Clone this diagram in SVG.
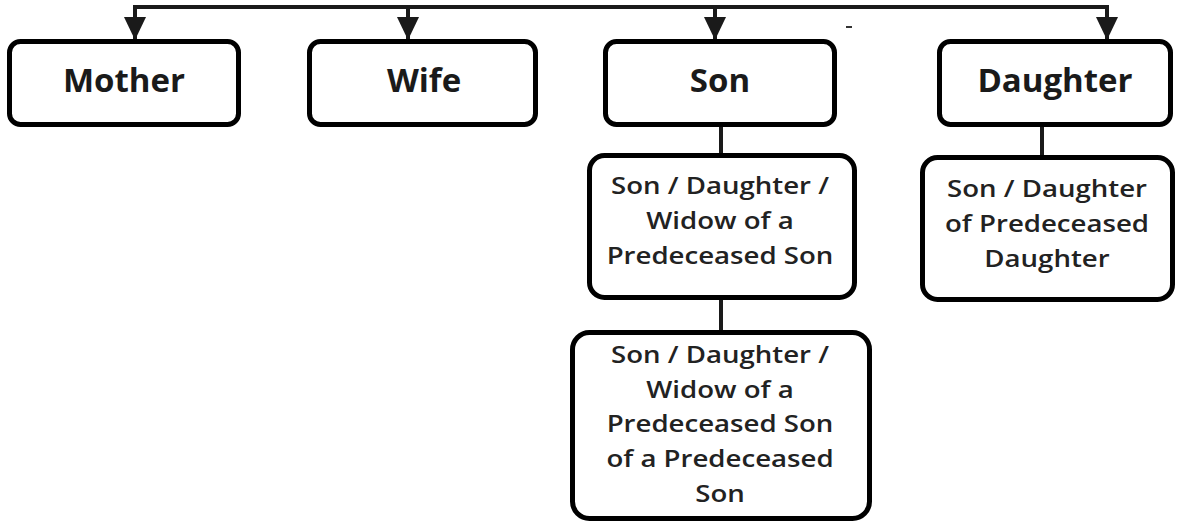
<svg xmlns="http://www.w3.org/2000/svg" width="1186" height="524" viewBox="0 0 1186 524">
<defs>
<style>
.box{fill:#fff;stroke:#000;stroke-width:5}
.lbl{font-family:"Open Sans","Liberation Sans",sans-serif;font-weight:700;font-size:33px;fill:#1a1a1a;text-anchor:middle}
.sm{font-family:"Open Sans","Liberation Sans",sans-serif;font-weight:600;font-size:24px;fill:#222;text-anchor:middle}
.ln{stroke:#1a1a1a;stroke-width:4;fill:none}
</style>
<marker id="ah" markerWidth="23" markerHeight="24" viewBox="0 0 24 23" refX="24" refY="11.5" orient="auto" markerUnits="userSpaceOnUse">
<path d="M0,0 L24,11.5 L0,23 Z" fill="#1a1a1a"/>
</marker>
</defs>
<rect width="1186" height="524" fill="#fff"/>
<g id="connectors">
<path class="ln" d="M135,40 V7 H1107 V40"/>
<path class="ln" d="M135,9 V40" marker-end="url(#ah)"/>
<path class="ln" d="M408,9 V40" marker-end="url(#ah)"/>
<path class="ln" d="M715,9 V40" marker-end="url(#ah)"/>
<path class="ln" d="M1107,9 V40" marker-end="url(#ah)"/>
<path class="ln" d="M721,127 V155"/>
<path class="ln" d="M1042,127 V157"/>
<path class="ln" d="M721,300 V332"/>
<rect x="846" y="26" width="6" height="2" fill="#333"/>
</g>
<g id="mother">
<rect class="box" x="9.5" y="41.5" width="229" height="83" rx="11"/>
<text class="lbl" x="124" y="92">Mother</text>
</g>
<g id="wife">
<rect class="box" x="309.5" y="41.5" width="226" height="83" rx="11"/>
<text class="lbl" x="424" y="92">Wife</text>
</g>
<g id="son">
<rect class="box" x="605.5" y="41.5" width="229" height="83" rx="11"/>
<text class="lbl" x="720" y="92">Son</text>
</g>
<g id="daughter">
<rect class="box" x="939.5" y="41.5" width="231" height="83" rx="11"/>
<text class="lbl" x="1055" y="92">Daughter</text>
</g>
<g id="son-child">
<rect class="box" x="589.5" y="155.5" width="265" height="142" rx="15"/>
<g transform="translate(720,0) scale(1.15,1)">
<text class="sm" x="0" y="194">Son / Daughter /</text>
<text class="sm" x="0" y="229">Widow of a</text>
<text class="sm" x="0" y="264">Predeceased Son</text>
</g>
</g>
<g id="daughter-child">
<rect class="box" x="922.5" y="157.5" width="250" height="142" rx="15"/>
<g transform="translate(1047,0) scale(1.15,1)">
<text class="sm" x="0" y="197">Son / Daughter</text>
<text class="sm" x="0" y="232">of Predeceased</text>
<text class="sm" x="0" y="267">Daughter</text>
</g>
</g>
<g id="grandson-child">
<rect class="box" x="572.5" y="332.5" width="297" height="186" rx="17"/>
<g transform="translate(720,0) scale(1.15,1)">
<text class="sm" x="0" y="363">Son / Daughter /</text>
<text class="sm" x="0" y="398">Widow of a</text>
<text class="sm" x="0" y="432">Predeceased Son</text>
<text class="sm" x="0" y="467">of a Predeceased</text>
<text class="sm" x="0" y="502">Son</text>
</g>
</g>
</svg>
